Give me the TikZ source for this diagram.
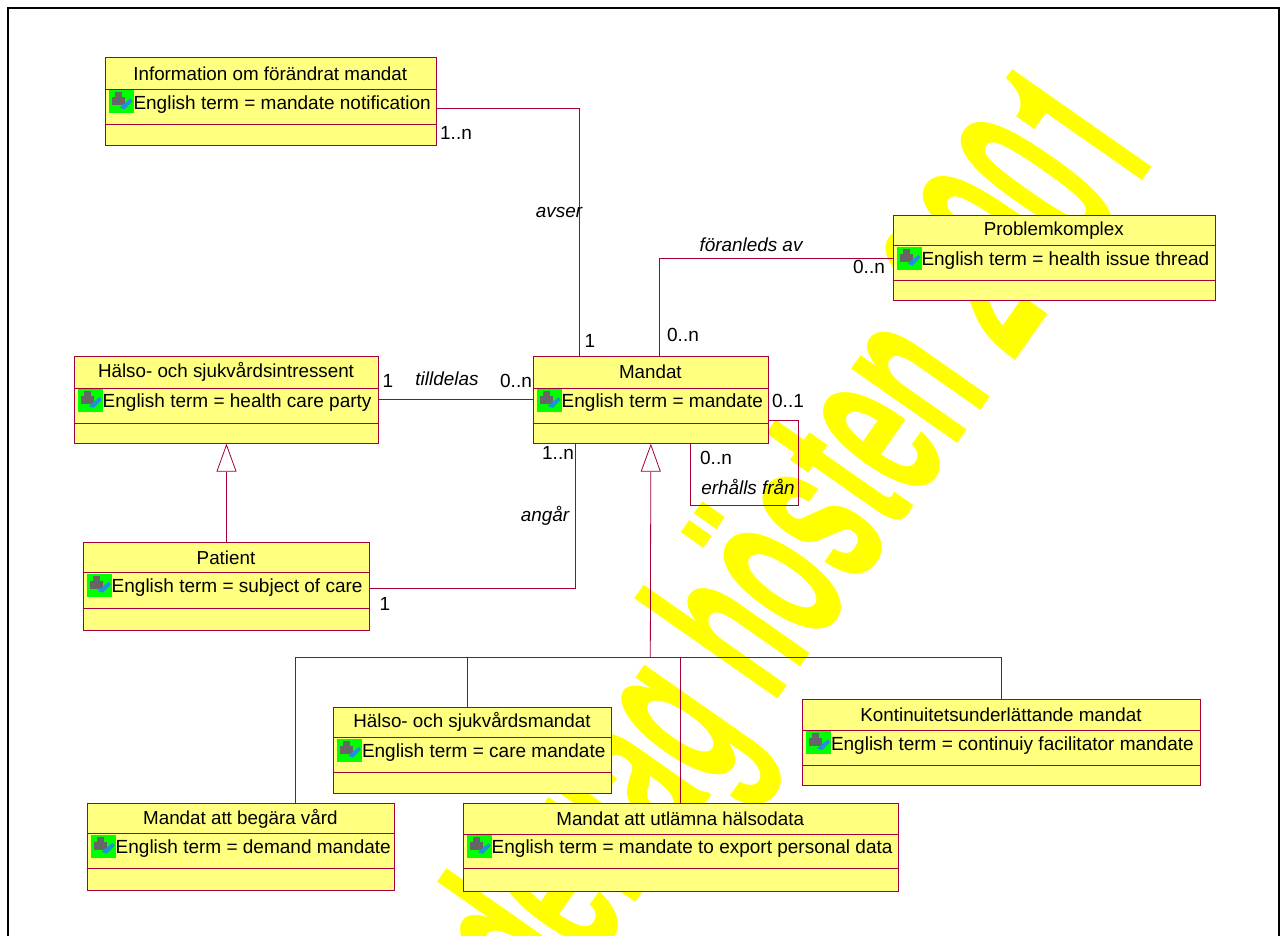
\documentclass[tikz,border=0pt]{standalone}
\usepackage{fontspec}
\setmainfont{Liberation Sans}
\newfontfamily\stampfont{TeX Gyre Heros}
\usetikzlibrary{arrows.meta,calc}
\definecolor{umlred}{HTML}{A5003C}
\definecolor{umlfill}{HTML}{FFFF80}
\definecolor{iconblue}{HTML}{1E90E0}
\definecolor{iconbg}{HTML}{00FF00}
\definecolor{stampyellow}{HTML}{FFFF00}
\tikzset{
  classbox/.style={draw=umlred, fill=umlfill, line width=1pt, inner sep=0pt, anchor=north west},
  classtitle/.style={font=\fontsize{18.8}{20}\selectfont, inner sep=0pt},
  classterm/.style={font=\fontsize{19}{20}\selectfont, inner sep=0pt, anchor=west},
  assoc/.style={draw=umlred, line width=.8pt},
  gen/.style={assoc, -{Triangle[open, fill=white, length=28pt, width=20pt]}},
  mult/.style={font=\fontsize{19}{20}\selectfont, inner sep=0pt},
  role/.style={font=\fontsize{18.9}{20}\selectfont\itshape, inner sep=0pt},
}
% name, left, top, right, first divider, second divider, bottom, title, term
\newcommand{\umlclass}[9]{
  \node[classbox, minimum width=#4pt-#2pt, minimum height=#7pt-#3pt] (#1) at (#2,#3) {};
  \draw[assoc] (#2,#5) -- (#4,#5);
  \draw[assoc] (#2,#6) -- (#4,#6);
  \fill[iconbg] (#2+4.3,#5+1) rectangle ++(25,23);
  \fill[black!60] (#2+7,#5+8) rectangle ++(13,8);
  \fill[black!60] (#2+10,#5+3) rectangle ++(7,6);
  \fill[iconblue] (#2+15,#5+18) -- ++(11,-9) -- ++(2,3) -- ++(-8,8) -- cycle;
  \node[classtitle] (#1title) at ($(#2,#3)!.5!(#4,#5)$) {#8};
  \node[classterm] (#1term) at (#2+28.8,#5+15) {#9};
}
\begin{document}
\begin{tikzpicture}[x=1pt,y=-1pt]
\useasboundingbox (0,0) rectangle (1283,936);
\clip (0,0) rectangle (1283,936);
\fill[white] (0,0) rectangle (1283,936);
% watermark
\node[rotate=55, anchor=east, text=stampyellow, inner sep=0pt, font=\fontsize{240}{240}\stampfont\bfseries] (stamp) at (1113,114)
  {\scalebox{.49}[1]{Underlag hösten 2001}};
\draw[black, line width=2pt] (8,940) -- (8,8) -- (1278.5,8) -- (1278.5,940);
% classes
\umlclass{info}{104.5}{57.5}{436}{89.5}{124}{145}{Information om förändrat mandat}{English term = mandate notification}
\umlclass{problem}{892.5}{215}{1215}{245.7}{280}{300}{Problemkomplex}{English term = health issue thread}
\umlclass{mandat}{532.7}{356}{768}{388}{423}{442.7}{Mandat}{English term = mandate}
\umlclass{halso}{73.7}{356}{378.3}{388}{423}{442.7}{Hälso- och sjukvårdsintressent}{English term = health care party}
\umlclass{patient}{82.7}{542.3}{369.3}{572.7}{608.3}{630}{Patient}{English term = subject of care}
\umlclass{vardmandat}{333}{707}{611}{737.7}{772.7}{792.7}{Hälso- och sjukvårdsmandat}{English term = care mandate}
\umlclass{konti}{802}{698.7}{1200}{730.3}{765.3}{785.3}{Kontinuitetsunderlättande mandat}{English term = continuiy facilitator mandate}
\umlclass{begara}{86.7}{803.3}{394}{833.7}{868.7}{890.3}{Mandat att begära vård}{English term = demand mandate}
\umlclass{utlamna}{462.7}{803.3}{897.7}{834}{868.3}{890.7}{Mandat att utlämna hälsodata}{English term = mandate to export personal data}
% associations
\draw[assoc] ([yshift=-7pt]info.east) -| ([xshift=-71pt]mandat.north);
\draw[assoc] (problem.west) -| ([xshift=9pt]mandat.north);
\draw[assoc] (halso.east) -- (mandat.west);
\draw[assoc] ([yshift=-1.5pt]patient.east) -| ([xshift=-75.85pt]mandat.south);
\draw[assoc] ([yshift=-21pt]mandat.east) -- ++(29.3,0) -- ++(0,84.4) -| ([xshift=39.65pt]mandat.south);
% generalisations
\draw[gen] (patient.north) -- (halso.south);
\coordinate (genbar) at (650.3,657.5);
\draw[gen] (genbar) -- (mandat.south);
\draw[assoc] ([xshift=55pt]begara.north) |- (genbar);
\draw[assoc] ([xshift=-4.7pt]vardmandat.north) |- (genbar);
\draw[assoc] (utlamna.north) |- (genbar);
\draw[assoc] (konti.north) |- (genbar);
% labels
\node[mult] (m1) at (456,133) {1..n};
\node[mult] (m2) at (590,341) {1};
\node[mult] (m3) at (683,335) {0..n};
\node[mult] (m4) at (869,267) {0..n};
\node[mult] (m5) at (388,381) {1};
\node[mult] (m6) at (516,381) {0..n};
\node[mult] (m7) at (788,401) {0..1};
\node[mult] (m8) at (558,453) {1..n};
\node[mult] (m9) at (716,458) {0..n};
\node[mult] (m10) at (385,604) {1};
\node[role] (r1) at (559,213) {avser};
\node[role] (r2) at (751,245) {föranleds av};
\node[role] (r3) at (447,379) {tilldelas};
\node[role] (r4) at (545,516) {angår};
\node[role] (r5) at (748,487) {erhålls från};
\end{tikzpicture}
\end{document}
